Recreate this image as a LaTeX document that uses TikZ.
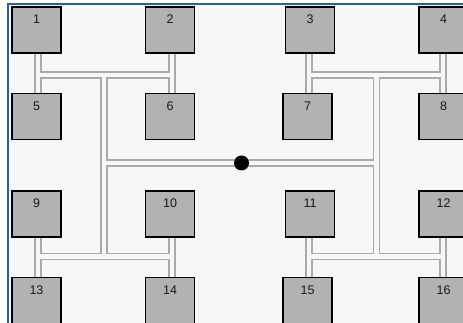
\documentclass[tikz,border=0pt]{standalone}
\usepackage{fontspec}
\setmainfont{Liberation Sans}
\definecolor{framecol}{RGB}{36,96,168}
\definecolor{bgcol}{RGB}{247,247,247}
\definecolor{boxgray}{RGB}{178,178,178}
\definecolor{pipegray}{RGB}{170,170,170}
\begin{document}
\begin{tikzpicture}[x=1pt,y=-1pt,
  box/.style={draw=black, line width=1.3pt, fill=boxgray,
    minimum width=49pt, minimum height=46pt, inner sep=0pt},
  lbl/.style={font=\fontsize{12.5}{13}\selectfont, text=black!90, inner sep=0pt},
  pipe/.style={draw=pipegray, line width=1.4pt, double=bgcol, double distance=4.6pt},
  hub/.style={circle, fill=black, minimum size=15pt, inner sep=0pt}
]
\useasboundingbox (0,0) rectangle (463,323);
\clip (0,0) rectangle (463,323);

% panel background and frame
\fill[white] (0,0) rectangle (463,323);
\fill[bgcol] (8,4) rectangle (470,330);
\draw[framecol, line width=2.2pt] (8,330) -- (8,4) -- (470,4);

% switch boxes (centres)
\foreach \n/\x/\y in {1/36.5/30, 2/170/30, 3/310/30, 4/443.5/30,
                      5/36.5/116.5, 6/170/116.5, 7/307.5/116.5, 8/443.5/116.5,
                      9/36.5/214, 10/170/214, 11/310/214, 12/443.5/214,
                      13/36.5/300.5, 14/170/300.5, 15/307.5/300.5, 16/443.5/300.5}
  \path (\x,\y) coordinate (p\n);

% junction points of the cabling
\coordinate (a1) at (38,75);     \coordinate (a2) at (172,75);
\coordinate (a3) at (309,75);    \coordinate (a4) at (443,75);
\coordinate (c1) at (38,256.5);  \coordinate (c2) at (172,256.5);
\coordinate (c3) at (309,256.5); \coordinate (c4) at (443,256.5);
\coordinate (tl1) at (104,75);   \coordinate (tl2) at (104,256.5);
\coordinate (tr1) at (376.5,75); \coordinate (tr2) at (376.5,256.5);
\coordinate (ml) at (104,163);   \coordinate (mr) at (376.5,163);

% boxes are placed first as nodes (drawn later on top of the cables)
\foreach \n in {1,...,16}
  \path (p\n) node[box, draw=none, fill=none] (b\n) {};

% cabling, one double-line path so that the junctions merge
\draw[pipe]
  (b1.south -| a1) -- (b5.north -| a1)
  (b2.south -| a2) -- (b6.north -| a2)
  (a1) -- (a2)
  (b3.south -| a3) -- (b7.north -| a3)
  (b4.south -| a4) -- (b8.north -| a4)
  (a3) -- (a4)
  (b9.south -| c1) -- (b13.north -| c1)
  (b10.south -| c2) -- (b14.north -| c2)
  (c1) -- (c2)
  (b11.south -| c3) -- (b15.north -| c3)
  (b12.south -| c4) -- (b16.north -| c4)
  (c3) -- (c4)
  (tl1) -- (tl2)
  (tr1) -- (tr2)
  (ml) -- (mr);

% the boxes with their numbers
\foreach \n in {1,...,16} {
  \node[box] (s\n) at (p\n) {};
  \node[lbl] (t\n) at ([yshift=-13pt]s\n.north) {\n};
}

% central hub
\node[hub] (hub) at (241.5,163) {};
\end{tikzpicture}
\end{document}
